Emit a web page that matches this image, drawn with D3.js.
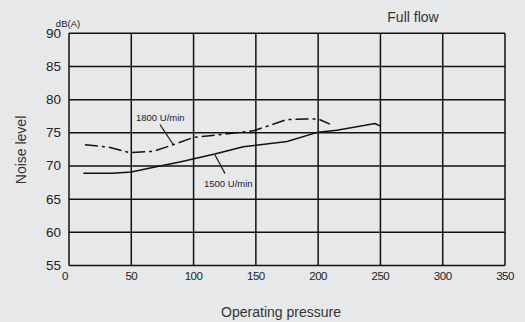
<!DOCTYPE html>
<html><head><meta charset="utf-8">
<script src="https://cdn.jsdelivr.net/npm/d3@7"></script>
<style>body{margin:0;background:#e7e8ea;}svg{display:block;font-family:"Liberation Sans",Arial,sans-serif;}</style>
</head><body><svg id="c" width="525" height="322"></svg>
<script>
const xTicks = [0, 50, 100, 150, 200, 250, 300, 350];
const yTicks = [55, 60, 65, 70, 75, 80, 85, 90];
const p1500 = [11.5, 35, 50, 70, 89, 117, 140, 175, 200, 215, 245.6, 250];
const n1500 = [68.9, 68.9, 69.1, 69.9, 70.6, 71.8, 72.9, 73.7, 75.1, 75.4, 76.4, 76.0];
const p1800 = [12.8, 33, 49, 67.5, 83.5, 100, 120, 148, 175, 200, 209.5];
const n1800 = [73.2, 72.8, 72.0, 72.2, 73.2, 74.3, 74.7, 75.3, 77.0, 77.1, 76.3];
const labels = ["1800 U/min", "1500 U/min"];

const svg = d3.select("#c");
const x = d3.scaleLinear().domain([0, 350]).range([69, 505]);
const y = d3.scaleLinear().domain([55, 90]).range([265.5, 33.3]);

// grid
svg.append("g").selectAll("line").data(xTicks).join("line")
  .attr("x1", d => x(d)).attr("x2", d => x(d)).attr("y1", y(90)).attr("y2", y(55))
  .attr("stroke", "#111").attr("stroke-width", 1.5);
svg.append("g").selectAll("line").data(yTicks).join("line")
  .attr("y1", d => y(d)).attr("y2", d => y(d)).attr("x1", x(0)).attr("x2", x(350))
  .attr("stroke", "#111").attr("stroke-width", 1.5);

// axes labels
svg.append("g").selectAll("text").data(yTicks).join("text")
  .attr("x", 61).attr("y", d => y(d) + 4.5).attr("text-anchor", "end")
  .attr("font-size", 13.5).attr("fill", "#222").text(d => d);
svg.append("g").selectAll("text").data(xTicks).join("text")
  .attr("x", d => d === 0 ? x(d) - 4 : x(d)).attr("y", 280).attr("text-anchor", "middle")
  .attr("font-size", 11.5).attr("letter-spacing", -0.5).attr("fill", "#222").text(d => d);

svg.append("text").attr("x", 68).attr("y", 27).attr("text-anchor", "middle")
  .attr("font-size", 9.5).attr("fill", "#222").text("dB(A)");
svg.append("text").attr("x", 413).attr("y", 22).attr("text-anchor", "middle")
  .attr("font-size", 14).attr("fill", "#333").text("Full flow");
svg.append("text").attr("x", 281).attr("y", 317).attr("text-anchor", "middle")
  .attr("font-size", 14).attr("fill", "#333").text("Operating pressure");
svg.append("text").attr("transform", "translate(26,150) rotate(-90)").attr("text-anchor", "middle")
  .attr("font-size", 14).attr("fill", "#333").text("Noise level");

const line = d3.line().x(d => x(d[0])).y(d => y(d[1]));
svg.append("path").datum(p1500.map((p, i) => [p, n1500[i]])).attr("d", line)
  .attr("fill", "none").attr("stroke", "#111").attr("stroke-width", 1.5);
svg.append("path").datum(p1800.map((p, i) => [p, n1800[i]])).attr("d", line)
  .attr("fill", "none").attr("stroke", "#111").attr("stroke-width", 1.5)
  .attr("stroke-dasharray", "13,4,3,4");

// series labels with leaders
svg.append("text").attr("x", 136).attr("y", 121).attr("font-size", 9.5).attr("fill", "#222").text(labels[0]);
svg.append("line").attr("x1", 160).attr("y1", 124.5).attr("x2", 173.5).attr("y2", 145)
  .attr("stroke", "#111").attr("stroke-width", 1.2);
svg.append("text").attr("x", 204).attr("y", 187).attr("font-size", 9.5).attr("fill", "#222").text(labels[1]);
svg.append("line").attr("x1", 215).attr("y1", 155).attr("x2", 225).attr("y2", 173.5)
  .attr("stroke", "#111").attr("stroke-width", 1.2);
</script></body></html>
